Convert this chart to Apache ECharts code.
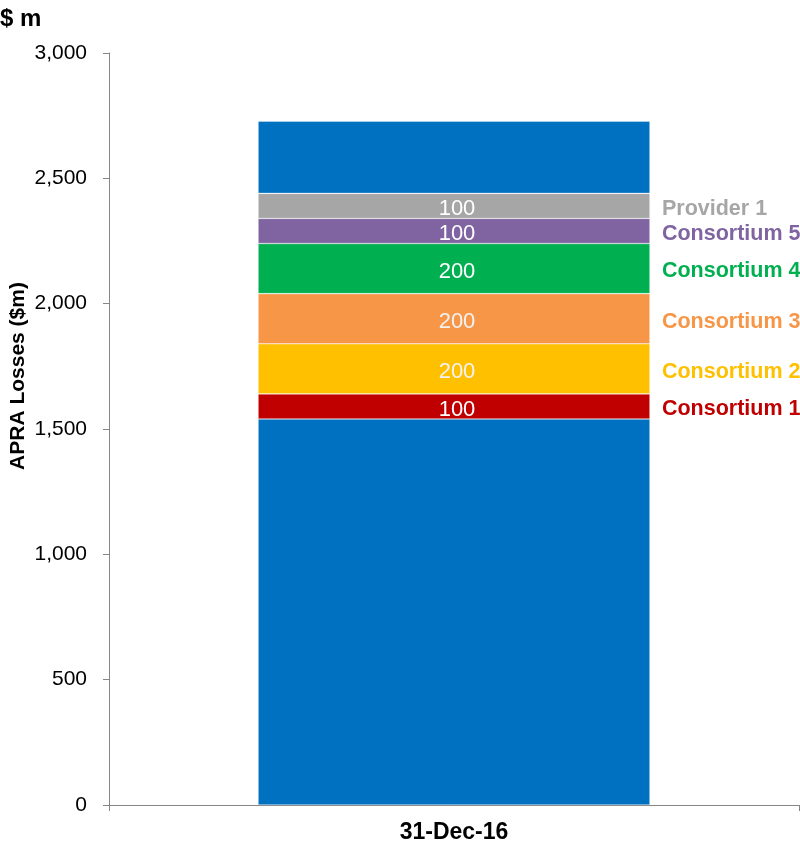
<!DOCTYPE html>
<html>
<head>
<meta charset="utf-8">
<title>APRA Losses</title>
<script src="https://cdn.jsdelivr.net/npm/echarts@6/dist/echarts.min.js"></script>
<style>
  html, body { margin: 0; padding: 0; background: #ffffff; }
  #chart { width: 800px; height: 843px; }
</style>
</head>
<body>
<div id="chart"></div>
<script>
// Categories and stacked segments (bottom to top), $m
const categories = ['31-Dec-16'];
const segmentNames = ['Base', 'Consortium 1', 'Consortium 2', 'Consortium 3', 'Consortium 4', 'Consortium 5', 'Provider 1', 'Remainder'];
const segmentValues = [1540, 100, 200, 200, 200, 100, 100, 288];
const segmentColors = ['#0070C0', '#C00000', '#FFC000', '#F79646', '#00B050', '#8064A2', '#A6A6A6', '#0070C0'];
const valueLabelColors = [null, '#FFFFFF', '#F2F2F2', '#F2F2F2', '#FFFFFF', '#FFFFFF', '#FFFFFF', null];
const labelledSegments = [false, true, true, true, true, true, true, false];
const yTicks = { min: 0, max: 3000, interval: 500 };

const chart = echarts.init(document.getElementById('chart'), null, { renderer: 'canvas' });

const BAR_WIDTH = '56.8%';
const series = [];

// Coloured stack carrying the value labels
segmentNames.forEach((name, i) => {
  series.push({
    name: name,
    type: 'bar',
    stack: 'losses',
    barWidth: BAR_WIDTH,
    barGap: '-100%',
    data: [segmentValues[i]],
    itemStyle: { color: segmentColors[i], borderColor: 'rgba(255,255,255,0.55)', borderWidth: 0.6 },
    label: {
      show: labelledSegments[i],
      position: 'inside',
      color: valueLabelColors[i] || '#FFFFFF',
      fontFamily: 'Liberation Sans, Arial, sans-serif',
      fontSize: 22,
      offset: [3, 3]
    },
    silent: true,
    z: 2
  });
});

// Transparent twin stack carrying the series names to the right of the bar
segmentNames.forEach((name, i) => {
  series.push({
    name: name + ' label',
    type: 'bar',
    stack: 'names',
    barWidth: BAR_WIDTH,
    barGap: '-100%',
    data: [segmentValues[i]],
    itemStyle: { color: 'rgba(0,0,0,0)' },
    label: {
      show: labelledSegments[i],
      position: ['100%', '50%'],
      offset: [12, 3],
      align: 'left',
      verticalAlign: 'middle',
      formatter: name,
      color: segmentColors[i],
      fontFamily: 'Liberation Sans, Arial, sans-serif',
      fontWeight: 'bold',
      fontSize: 21.5
    },
    silent: true,
    z: 3
  });
});

const option = {
  animation: false,
  backgroundColor: '#ffffff',
  title: {
    text: '$ m',
    left: -5,
    top: 2,
    textStyle: { fontFamily: 'Liberation Sans, Arial, sans-serif', fontWeight: 'bold', fontSize: 24, color: '#000000' }
  },
  grid: { left: 109, right: 1, top: 53, bottom: 38, containLabel: false, outerBoundsMode: 'none' },
  xAxis: {
    type: 'category',
    data: categories,
    boundaryGap: true,
    axisLine: { show: true, lineStyle: { color: '#868686', width: 1 } },
    axisTick: { show: true, length: 6, alignWithLabel: false, lineStyle: { color: '#868686' } },
    axisLabel: {
      margin: 16,
      color: '#000000',
      fontFamily: 'Liberation Sans, Arial, sans-serif',
      fontWeight: 'bold',
      fontSize: 23
    },
    splitLine: { show: false }
  },
  yAxis: {
    type: 'value',
    min: yTicks.min,
    max: yTicks.max,
    interval: yTicks.interval,
    axisLine: { show: true, lineStyle: { color: '#868686', width: 1 } },
    axisTick: { show: true, length: 6, lineStyle: { color: '#868686' } },
    axisLabel: {
      margin: 22,
      color: '#000000',
      fontFamily: 'Liberation Sans, Arial, sans-serif',
      fontSize: 21,
      formatter: v => v.toLocaleString('en-US')
    },
    splitLine: { show: false }
  },
  graphic: [{
    type: 'text',
    x: 18,
    y: 376,
    rotation: Math.PI / 2,
    style: {
      text: 'APRA Losses ($m)',
      fill: '#000000',
      font: 'bold 21px "Liberation Sans", Arial, sans-serif',
      textAlign: 'center',
      textVerticalAlign: 'middle'
    }
  }],
  series: series
};

chart.setOption(option);
</script>
</body>
</html>
